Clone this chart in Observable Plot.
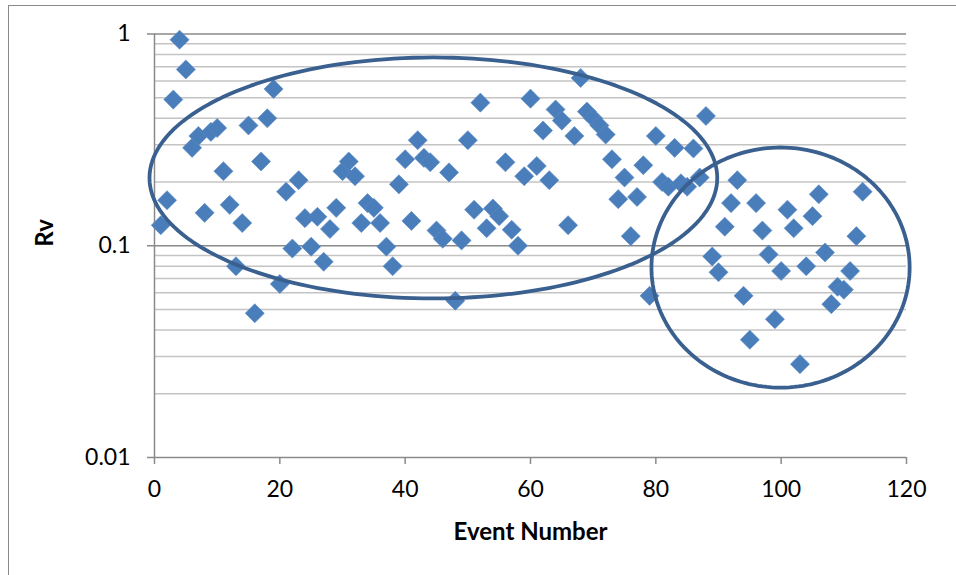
<!DOCTYPE html>
<html><head><meta charset="utf-8">
<script src="https://cdn.jsdelivr.net/npm/d3@7"></script>
<script src="https://cdn.jsdelivr.net/npm/@observablehq/plot@0.6"></script>
<style>
html,body{margin:0;padding:0;background:#fff;}
#wrap{position:relative;width:956px;height:575px;overflow:hidden;}
#frame{position:absolute;left:8px;top:5px;width:960px;height:600px;border-left:1.5px solid #8a8a8a;border-top:1.5px solid #8a8a8a;pointer-events:none;}
#chart{position:absolute;left:0;top:0;}
</style></head><body>
<div id="wrap"><div id="chart"></div><div id="frame"></div></div>
<script>
// Event numbers 1..113 and their Rv values
const events = d3.range(1, 114);
const rv = [
  0.125, 0.164, 0.49, 0.94, 0.68, 0.29, 0.33, 0.143, 0.345, 0.36,
  0.225, 0.156, 0.080, 0.128, 0.37, 0.048, 0.25, 0.40, 0.55, 0.066,
  0.18, 0.097, 0.204, 0.135, 0.099, 0.137, 0.084, 0.12, 0.151, 0.225,
  0.25, 0.213, 0.128, 0.159, 0.151, 0.128, 0.099, 0.080, 0.195, 0.256,
  0.131, 0.315, 0.26, 0.248, 0.118, 0.108, 0.222, 0.055, 0.106, 0.315,
  0.148, 0.474, 0.121, 0.15, 0.138, 0.248, 0.119, 0.10, 0.213, 0.495,
  0.238, 0.35, 0.204, 0.44, 0.39, 0.125, 0.33, 0.62, 0.43, 0.40,
  0.37, 0.335, 0.256, 0.166, 0.21, 0.111, 0.17, 0.24, 0.058, 0.33,
  0.20, 0.19, 0.29, 0.197, 0.19, 0.288, 0.21, 0.41, 0.089, 0.075,
  0.123, 0.159, 0.204, 0.058, 0.036, 0.159, 0.118, 0.091, 0.045, 0.076,
  0.148, 0.121, 0.0276, 0.080, 0.138, 0.175, 0.093, 0.053, 0.064, 0.062,
  0.076, 0.111, 0.18
];
const xTicks = [0, 20, 40, 60, 80, 100, 120];
const yTicks = [0.01, 0.1, 1];
const yTickLabels = ["0.01", "0.1", "1"];
const minorGrid = [2,3,4,5,6,7,8,9].flatMap(m => [m * 0.01, m * 0.1]);
const majorGrid = [0.1, 1];

// Annotation ellipses: center (event, Rv), half-width in events, half-height in decades
const ellipseIds = ["left", "right"];
const ellipseCx = [44.5, 99.9];
const ellipseCy = [0.209, 0.0789];
const ellipseRx = [45.3, 20.6];
const ellipseRy = [0.569, 0.567];

const points = events.map((e, i) => ({event: e, rv: rv[i]}));
const ellipsePts = ellipseIds.flatMap((id, k) =>
  d3.range(0, 361, 2).map(a => {
    const t = a * Math.PI / 180;
    return {id, x: ellipseCx[k] + ellipseRx[k] * Math.cos(t),
            y: Math.pow(10, Math.log10(ellipseCy[k]) + ellipseRy[k] * Math.sin(t))};
  })
);
const yLabelRows = yTicks.map((v, i) => ({v, label: yTickLabels[i]}));

const font = "Lato, 'Open Sans', sans-serif";
const chart = Plot.plot({
  width: 956, height: 575,
  marginLeft: 154, marginRight: 50, marginTop: 33.5, marginBottom: 118,
  style: {fontFamily: font, background: "transparent", overflow: "visible"},
  x: {domain: [0, 120], axis: null},
  y: {type: "log", domain: [0.01, 1], axis: null},
  marks: [
    Plot.ruleY(minorGrid, {stroke: "#c4c4c4", strokeWidth: 1.6}),
    Plot.ruleY(majorGrid, {stroke: "#8a8a8a", strokeWidth: 1.5}),
    Plot.ruleY([0.01], {stroke: "#8a8a8a", strokeWidth: 1.5}),
    Plot.ruleX([0], {stroke: "#8a8a8a", strokeWidth: 1.5}),
    Plot.axisX({ticks: xTicks, tickSize: 7, tickPadding: 16, fontSize: 23, stroke: "#8a8a8a", strokeWidth: 1.5, fill: "#000", label: null, tickFormat: d => String(d)}),
    Plot.axisY({ticks: yTicks, tickSize: 7, stroke: "#8a8a8a", strokeWidth: 1.5, label: null, tickFormat: () => ""}),
    Plot.text(yLabelRows, {y: "v", frameAnchor: "left", dx: -24, text: "label", textAnchor: "end", fontSize: 23, fill: "#000"}),
    Plot.dot(points, {x: "event", y: "rv", symbol: "diamond2", r: 8.6, fill: "#4a7ebb", stroke: "#5a8cc6", strokeWidth: 0.6}),
    Plot.line(ellipsePts, {x: "x", y: "y", z: "id", stroke: "#3a6090", strokeWidth: 3.8, curve: "linear"}),
    Plot.text(["Event Number"], {frameAnchor: "bottom", dy: 75, lineAnchor: "middle", text: d => d, fontSize: 24, fontWeight: "bold", fill: "#000"}),
    Plot.text(["Rv"], {frameAnchor: "left", dx: -109, dy: 1, rotate: -90, text: d => d, fontSize: 24, fontWeight: "bold", fill: "#000"})
  ]
});
document.getElementById("chart").append(chart);
</script>
</body></html>
